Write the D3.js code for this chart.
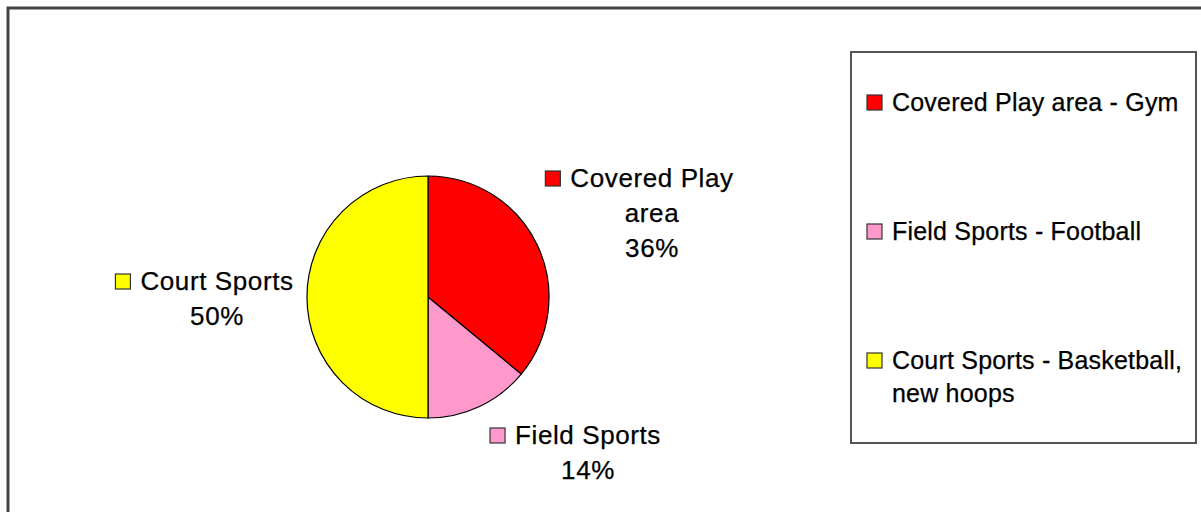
<!DOCTYPE html>
<html>
<head>
<meta charset="utf-8">
<script src="https://cdn.jsdelivr.net/npm/d3@7/dist/d3.min.js"></script>
<style>
  html, body { margin: 0; padding: 0; background: #fff; }
  svg { display: block; }
  text { font-family: "Liberation Sans", Arial, Helvetica, sans-serif; fill: #000; stroke: #000; stroke-width: 0.25px; }
</style>
</head>
<body>
<div id="chart"></div>
<script>
// Facility share by category
const categories = ["Covered Play area", "Field Sports", "Court Sports"];
const shares = [36, 14, 50];
const legendLabels = [
  ["Covered Play area - Gym"],
  ["Field Sports - Football"],
  ["Court Sports - Basketball,", "new hoops"]
];
const sliceLabels = [
  ["Covered Play", "area"],
  ["Field Sports"],
  ["Court Sports"]
];
const colors = ["#ff0000", "#ff99cc", "#ffff00"];

const W = 1201, H = 512;
const svg = d3.select("#chart").append("svg").attr("width", W).attr("height", H);

// chart area frame
svg.append("rect")
  .attr("x", 8).attr("y", 8).attr("width", W + 20).attr("height", H + 20)
  .attr("fill", "#fff").attr("stroke", "#444").attr("stroke-width", 3);

// pie
const cx = 428, cy = 297, R = 121;
const pie = d3.pie().sort(null).value(d => d.value);
const arcs = pie(categories.map((c, i) => ({ name: c, value: shares[i], color: colors[i] })));
const arc = d3.arc().innerRadius(0).outerRadius(R);

const g = svg.append("g").attr("transform", `translate(${cx},${cy})`);
g.selectAll("path").data(arcs).join("path")
  .attr("d", arc)
  .attr("fill", d => d.data.color)
  .attr("stroke", "#000").attr("stroke-width", 1.2)
  .attr("stroke-linejoin", "round");

// data labels: centre x of the text block and baseline of the first line
const labelLayout = [
  { x: 652, y: 187 },
  { x: 588, y: 444 },
  { x: 217, y: 290 }
];
const fontSize = 26, lineH = 35, sw = 15;

arcs.forEach((a, i) => {
  const lay = labelLayout[i];
  const lines = sliceLabels[i].concat([Math.round(a.data.value / d3.sum(shares) * 100) + "%"]);
  const grp = svg.append("g");
  const texts = grp.selectAll("text").data(lines).join("text")
    .attr("x", lay.x)
    .attr("y", (d, k) => lay.y + k * lineH)
    .attr("text-anchor", "middle")
    .attr("font-size", fontSize)
    .attr("letter-spacing", "0.6px")
    .text(d => d);
  const bb = texts.nodes()[0].getBBox();
  grp.append("rect")
    .attr("x", bb.x - 10 - sw).attr("y", lay.y - sw - 1)
    .attr("width", sw).attr("height", sw)
    .attr("fill", a.data.color).attr("stroke", "#333").attr("stroke-width", 1.2);
});

// legend
const lg = svg.append("g");
lg.append("rect")
  .attr("x", 851).attr("y", 52).attr("width", 345).attr("height", 391)
  .attr("fill", "#fff").attr("stroke", "#555").attr("stroke-width", 2);

const legendY = d3.scalePoint().domain(categories).range([111, 369]);
categories.forEach((c, i) => {
  const y = legendY(c);
  lg.append("rect")
    .attr("x", 867).attr("y", y - sw - 1)
    .attr("width", sw).attr("height", sw)
    .attr("fill", colors[i]).attr("stroke", "#333").attr("stroke-width", 1.2);
  lg.selectAll(null).data(legendLabels[i]).join("text")
    .attr("x", 892)
    .attr("y", (d, k) => y + k * 33)
    .attr("font-size", 25)
    .attr("letter-spacing", "0.2px")
    .text(d => d);
});
</script>
</body>
</html>
